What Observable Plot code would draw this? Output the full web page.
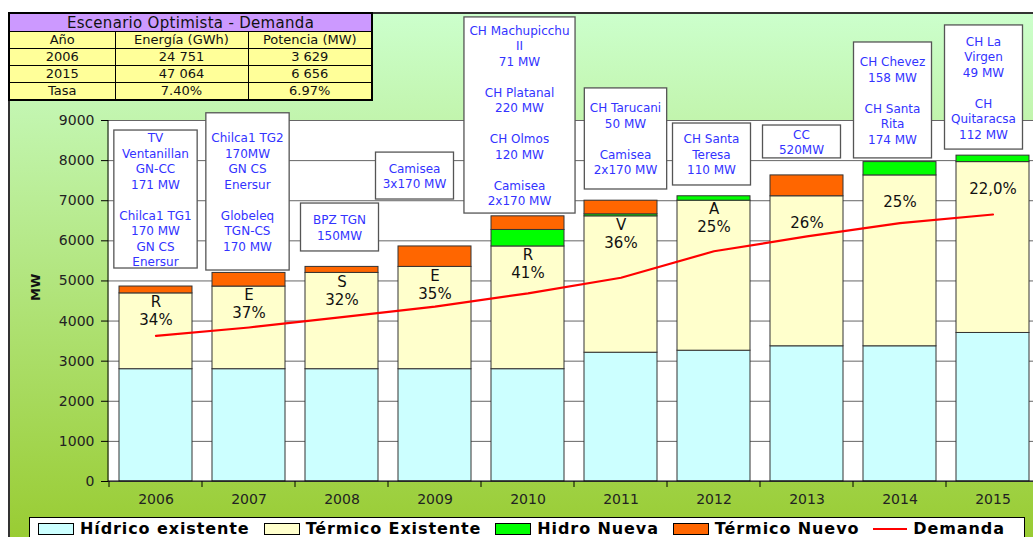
<!DOCTYPE html>
<html><head><meta charset="utf-8">
<script src="https://cdn.jsdelivr.net/npm/d3@7"></script>
<script src="https://cdn.jsdelivr.net/npm/@observablehq/plot@0.6"></script>
<style>
html,body{margin:0;padding:0;background:#fff;}
#wrap{position:relative;width:1033px;height:537px;overflow:hidden;font-family:"DejaVu Sans",sans-serif;}
#bg{position:absolute;left:8px;top:12px;width:1025px;height:525px;background:linear-gradient(#ccffcc,#99cc33);border-top:2px solid #333;border-left:2px solid #333;box-sizing:border-box;}
#chart{position:absolute;left:0;top:0;}
#tbl{position:absolute;left:8px;top:12px;border-collapse:collapse;border:2px solid #000;width:363px;table-layout:fixed;}
#tbl td,#tbl th{border:1.5px solid #000;text-align:center;padding:0;height:16px;line-height:16px;font-weight:normal;color:#111;}
#tbl th{background:#cc99ff;font-size:15px;letter-spacing:0.3px;height:17px;}
#tbl td{background:#ffff99;font-size:13px;}
#legend{position:absolute;left:29px;top:517px;width:996px;height:26px;background:#fff;border:1px solid #000;box-sizing:border-box;display:flex;align-items:flex-start;padding:3px 0 0 8px;font:bold 16px "DejaVu Sans",sans-serif;line-height:16px;letter-spacing:0.9px;color:#000;}
.item{display:flex;align-items:center;margin-right:14px;white-space:nowrap;}
.sw{width:36px;height:12px;border:1px solid #000;box-sizing:border-box;margin-right:6px;}
.ln{width:34px;height:2px;background:#ff0000;margin-right:6px;}
</style></head>
<body>
<div id="wrap">
  <div id="bg"></div>
  <div id="chart"></div>
  <table id="tbl"></table>
  <div id="legend"></div>
</div>
<script>
// ---- data ----
const years = ["2006","2007","2008","2009","2010","2011","2012","2013","2014","2015"];
const hidricoExistente = [2800,2800,2800,2800,2800,3211,3261,3371,3371,3703];
const termicoExistente = [1890,2060,2400,2550,3060,3400,3740,3740,4260,4260];
const hidroNueva       = [0,0,0,0,411,50,110,0,332,161];
const termicoNuevo     = [171,340,150,510,340,340,0,520,0,0];
const demanda          = [3629,3840,4100,4360,4690,5080,5740,6110,6440,6656];
const reservaLetra = ["R","E","S","E","R","V","A","","",""];
const reservaPct   = ["34%","37%","32%","35%","41%","36%","25%","26%","25%","22,0%"];
const seriesNames  = ["Hídrico existente","Térmico Existente","Hidro Nueva","Térmico Nuevo"];
const seriesColors = ["#ccffff","#ffffcc","#00ff00","#ff6600"];
const demandaName = "Demanda";
const yTicks = [0,1000,2000,3000,4000,5000,6000,7000,8000,9000];

const calloutYears = years;
const calloutLines = [
  ["TV","Ventanillan","GN-CC","171 MW","","Chilca1 TG1","170 MW","GN CS","Enersur"],
  ["Chilca1 TG2","170MW","GN CS","Enersur","","Globeleq","TGN-CS","170 MW"],
  ["BPZ TGN","150MW"],
  ["Camisea","3x170 MW"],
  ["CH Machupicchu","II","71 MW","","CH Platanal","220 MW","","CH Olmos","120 MW","","Camisea","2x170 MW"],
  ["CH Tarucani","50 MW","","Camisea","2x170 MW"],
  ["CH Santa","Teresa","110 MW"],
  ["CC","520MW"],
  ["CH Chevez","158 MW","","CH Santa","Rita","174 MW"],
  ["CH La","Virgen","49 MW","","CH","Quitaracsa","112 MW"]
];
const calloutTop    = [8750,9180,6930,8200,11570,9800,8925,8875,10945,11370];
const calloutBottom = [5310,5260,5735,7030,6680,7280,7380,8055,8055,8275];
const calloutShift  = [0,-1,-2,-20,-8,5,-2,-5,-7,-9];

const tableTitle  = "Escenario Optimista - Demanda";
const tableHeader = ["Año","Energía (GWh)","Potencia (MW)"];
const tableRows   = [["2006","24 751","3 629"],["2015","47 064","6 656"],["Tasa","7.40%","6.97%"]];

// ---- derived tables ----
const seriesArrays = [hidricoExistente, termicoExistente, hidroNueva, termicoNuevo];
const barData = years.flatMap((year, i) => seriesArrays.map((arr, k) => ({year, type: seriesNames[k], value: arr[i]}))).filter(d => d.value > 0);
const lineData = years.map((year, i) => ({year, value: demanda[i]}));
const labelData = years.map((year, i) => ({year, top: hidricoExistente[i] + termicoExistente[i], letter: reservaLetra[i], pct: reservaPct[i]}));

// ---- custom render helpers ----
function axisLines(index, scales, values, dims) {
  const {marginLeft, marginTop, marginBottom, marginRight, width, height} = dims;
  const X = scales.x;
  const g = d3.create("svg:g").attr("stroke", "#000").attr("stroke-width", 1);
  const yb = height - marginBottom;
  g.append("line").attr("x1", marginLeft).attr("x2", width - marginRight).attr("y1", yb).attr("y2", yb);
  g.append("line").attr("x1", marginLeft).attr("x2", marginLeft).attr("y1", marginTop).attr("y2", yb);
  const bw = X.bandwidth();
  const step = X(years[1]) - X(years[0]);
  years.forEach(yr => {
    const bx = X(yr) - (step - bw) / 2;
    g.append("line").attr("x1", bx).attr("x2", bx).attr("y1", yb).attr("y2", yb + 6);
  });
  return g.node();
}

function callouts(index, scales, values, dims) {
  const X = scales.x, Y = scales.y;
  const bw = X.bandwidth();
  const ctx = document.createElement("canvas").getContext("2d");
  ctx.font = "12px 'DejaVu Sans'";
  const g = d3.create("svg:g").attr("font-family", "DejaVu Sans").attr("font-size", 12);
  calloutYears.forEach((yr, i) => {
    const cx = X(yr) + bw / 2 + calloutShift[i];
    const y0 = Y(calloutTop[i]), y1 = Y(calloutBottom[i]);
    const lines = calloutLines[i];
    const w = Math.max(78, d3.max(lines, l => ctx.measureText(l).width) + 11);
    g.append("rect").attr("x", cx - w / 2).attr("y", y0).attr("width", w).attr("height", y1 - y0)
      .attr("fill", "#fff").attr("stroke", "#555").attr("stroke-width", 1.3);
    const lh = 15.5, cy = (y0 + y1) / 2 + 1;
    lines.forEach((l, j) => {
      g.append("text").attr("x", cx).attr("y", cy + (j - (lines.length - 1) / 2) * lh)
        .attr("text-anchor", "middle").attr("dominant-baseline", "central")
        .attr("fill", "#3333ff").text(l);
    });
  });
  return g.node();
}

const chart = Plot.plot({
  width: 1033, height: 537,
  marginTop: 120, marginBottom: 56, marginLeft: 108, marginRight: 0,
  style: {background: "none", fontFamily: "DejaVu Sans", overflow: "visible"},
  x: {type: "band", domain: years, range: [107.3, 1040.3], paddingInner: 0.22, paddingOuter: 0.11, axis: null},
  y: {domain: [0, 9000], axis: null},
  color: {domain: seriesNames, range: seriesColors},
  marks: [
    Plot.frame({fill: "#fff", stroke: null}),
    Plot.gridY(yTicks, {stroke: "#666", strokeOpacity: 1, strokeWidth: 1}),
    Plot.axisY(yTicks, {tickSize: 7, tickPadding: 7, tickFormat: "d", fontSize: 14, fill: "#222", stroke: "#000", label: null}),
    Plot.axisX({tickSize: 0, tickPadding: 13, fontSize: 14, fill: "#222", label: null}),
    Plot.text([4500], {y: d => d, text: () => "MW", frameAnchor: "left", dx: -73, rotate: -90, fontWeight: "bold", fontSize: 13, fill: "#111"}),
    callouts,
    Plot.barY(barData, {x: "year", y: "value", fill: "type", stroke: "#333", strokeWidth: 1}),
    Plot.text(labelData, {x: "year", y: "top", text: "letter", dy: 9, fontSize: 15, fill: "#111"}),
    Plot.text(labelData, {x: "year", y: "top", text: "pct", dy: 27, fontSize: 15, fill: "#111"}),
    Plot.line(lineData, {x: "year", y: "value", stroke: "#ff0000", strokeWidth: 2.2}),
    axisLines
  ]
});
document.getElementById("chart").appendChild(chart);

// table
const tbl = d3.select("#tbl");
const colW = [106, 133, 124];
const cg = tbl.append("colgroup");
colW.forEach(w => cg.append("col").style("width", w + "px"));
tbl.append("tr").append("th").attr("colspan", 3).text(tableTitle);
const hr = tbl.append("tr");
tableHeader.forEach(h => hr.append("td").text(h));
tableRows.forEach(r => { const tr = tbl.append("tr"); r.forEach(c => tr.append("td").text(c)); });

// legend
const lg = d3.select("#legend");
seriesNames.forEach((n, i) => {
  const it = lg.append("div").attr("class", "item");
  it.append("div").attr("class", "sw").style("background", seriesColors[i]);
  it.append("span").text(n);
});
const li = lg.append("div").attr("class", "item");
li.append("div").attr("class", "ln");
li.append("span").text(demandaName);
</script>
</body></html>
